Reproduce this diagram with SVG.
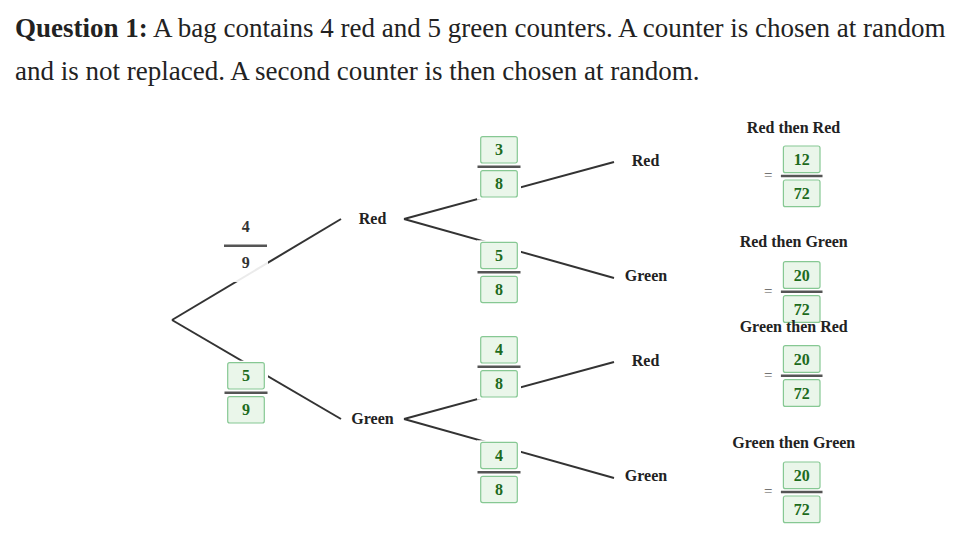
<svg xmlns="http://www.w3.org/2000/svg" width="960" height="540" viewBox="0 0 960 540">
<style>
.title{font-family:"Liberation Serif",serif;font-size:27px;fill:#222}
.lbl{font-family:"Liberation Serif",serif;font-size:16px;font-weight:bold;fill:#222;text-anchor:middle}
.num{font-family:"Liberation Serif",serif;font-size:16px;font-weight:bold;fill:#1d6b1d;text-anchor:middle}
.pnum{font-family:"Liberation Serif",serif;font-size:16px;font-weight:bold;fill:#333;text-anchor:middle}
.eq{font-family:"Liberation Serif",serif;font-size:15px;fill:#555;text-anchor:middle}
.box{fill:#eaf6ea;stroke:#86c893;stroke-width:1.2}
.bar{stroke:#555;stroke-width:2.5}
.bg{fill:#fff}
.conn{stroke:#333;stroke-width:2;fill:none}
</style>
<defs>
<g id="frac">
<rect class="bg" x="-22" y="-32" width="44" height="65"/>
<rect class="box" x="-18.3" y="-30" width="36.6" height="26.3" rx="2"/>
<rect class="box" x="-18.3" y="4" width="36.6" height="26.3" rx="2"/>
<line class="bar" x1="-21.5" y1="0" x2="21.5" y2="0"/>
</g>
<g id="ofrac">
<rect class="box" x="-18.3" y="-30" width="36.6" height="26.7" rx="2"/>
<rect class="box" x="-18.3" y="4" width="36.6" height="26.7" rx="2"/>
<line class="bar" x1="-20.8" y1="0" x2="20.8" y2="0"/>
</g>
</defs>
<rect width="960" height="540" fill="#fff"/>
<text class="title" x="15" y="36.7"><tspan font-weight="bold">Question 1:</tspan> A bag contains 4 red and 5 green counters. A counter is chosen at random</text>
<text class="title" x="15" y="80">and is not replaced. A second counter is then chosen at random.</text>

<g id="connectors">
<line class="conn" x1="172" y1="320" x2="341" y2="219"/>
<line class="conn" x1="172" y1="320" x2="341" y2="419"/>
<line class="conn" x1="404" y1="219" x2="614" y2="162"/>
<line class="conn" x1="404" y1="219" x2="614" y2="278"/>
<line class="conn" x1="404" y1="419" x2="614" y2="362"/>
<line class="conn" x1="404" y1="419" x2="614" y2="478"/>
</g>

<g id="p-red1">
<rect fill="#fff" fill-opacity="0.9" x="224" y="212" width="44" height="70"/>
<text class="pnum" x="245.7" y="231.5">4</text>
<line class="bar" x1="224" y1="245.7" x2="267" y2="245.7"/>
<text class="pnum" x="245.7" y="267.5">9</text>
</g>
<g id="p-green1">
<use href="#frac" x="246" y="392.7"/>
<text class="num" x="246" y="381.3">5</text>
<text class="num" x="246" y="415.3">9</text>
</g>

<g id="n-red1"><text class="lbl" x="372.5" y="223.5">Red</text></g>
<g id="n-green1"><text class="lbl" x="372.5" y="423.5">Green</text></g>

<g id="p-rr">
<use href="#frac" x="499" y="166.7"/>
<text class="num" x="499" y="155.3">3</text>
<text class="num" x="499" y="189.3">8</text>
</g>
<g id="p-rg">
<use href="#frac" x="499" y="272.3"/>
<text class="num" x="499" y="260.9">5</text>
<text class="num" x="499" y="294.9">8</text>
</g>
<g id="p-gr">
<use href="#frac" x="499" y="366.7"/>
<text class="num" x="499" y="355.3">4</text>
<text class="num" x="499" y="389.3">8</text>
</g>
<g id="p-gg">
<use href="#frac" x="499" y="472.3"/>
<text class="num" x="499" y="460.9">4</text>
<text class="num" x="499" y="494.9">8</text>
</g>

<g id="n-rr"><text class="lbl" x="645.5" y="166">Red</text></g>
<g id="n-rg"><text class="lbl" x="646" y="281">Green</text></g>
<g id="n-gr"><text class="lbl" x="645.5" y="366">Red</text></g>
<g id="n-gg"><text class="lbl" x="646" y="481">Green</text></g>

<g id="o-rr">
<text class="lbl" x="793.5" y="132.7">Red then Red</text>
<text class="eq" x="768.3" y="180">=</text>
<use href="#ofrac" x="801.7" y="176"/>
<text class="num" x="801.7" y="164.8">12</text>
<text class="num" x="801.7" y="198.8">72</text>
</g>
<g id="o-rg">
<text class="lbl" x="793.7" y="247.3">Red then Green</text>
<text class="eq" x="768.3" y="295.7">=</text>
<use href="#ofrac" x="801.7" y="291.7"/>
<text class="num" x="801.7" y="280.5">20</text>
<text class="num" x="801.7" y="314.5">72</text>
</g>
<g id="o-gr">
<text class="lbl" x="793.7" y="331.7">Green then Red</text>
<text class="eq" x="768.3" y="379.7">=</text>
<use href="#ofrac" x="801.7" y="375.7"/>
<text class="num" x="801.7" y="364.5">20</text>
<text class="num" x="801.7" y="398.5">72</text>
</g>
<g id="o-gg">
<text class="lbl" x="793.8" y="448.3">Green then Green</text>
<text class="eq" x="768.3" y="496">=</text>
<use href="#ofrac" x="801.7" y="492"/>
<text class="num" x="801.7" y="480.8">20</text>
<text class="num" x="801.7" y="514.8">72</text>
</g>
</svg>
